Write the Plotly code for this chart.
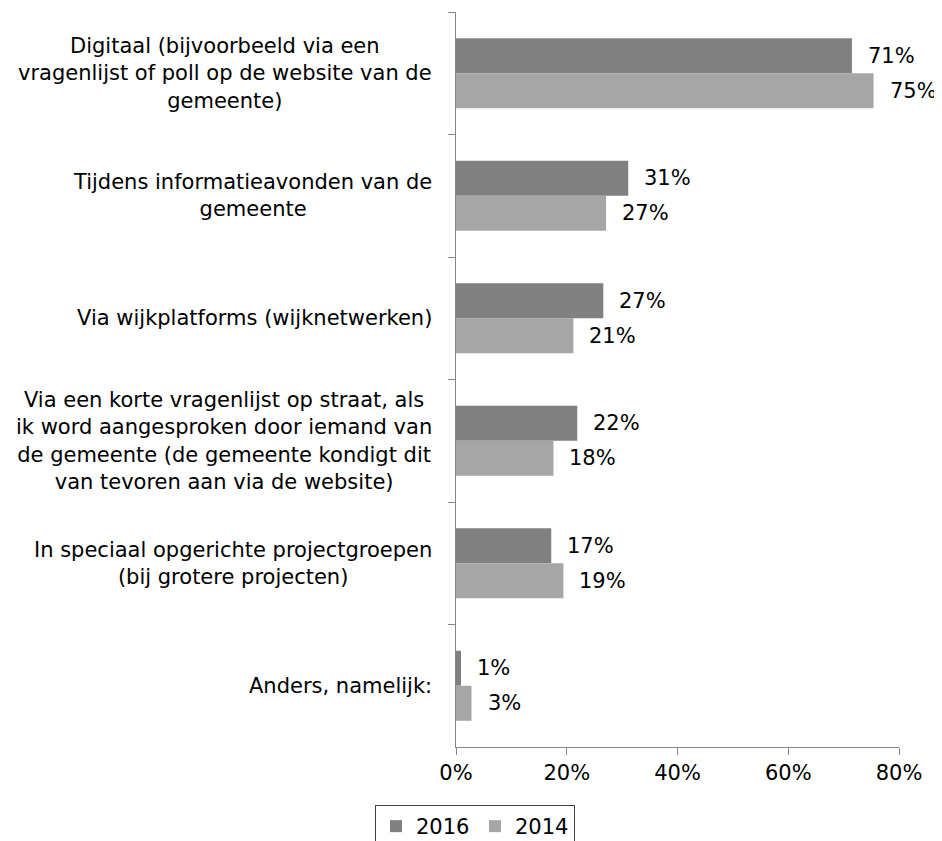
import plotly.graph_objects as go

categories = [
    "Digitaal (bijvoorbeeld via een<br>vragenlijst of poll op de website van de<br>gemeente)",
    "Tijdens informatieavonden van de<br>gemeente",
    "Via wijkplatforms (wijknetwerken)",
    "Via een korte vragenlijst op straat, als<br>ik word aangesproken door iemand van<br>de gemeente (de gemeente kondigt dit<br>van tevoren aan via de website)",
    "In speciaal opgerichte projectgroepen<br>(bij grotere projecten)",
    "Anders, namelijk:",
]
values_2016 = [71.5, 31.1, 26.6, 21.9, 17.2, 0.9]
values_2014 = [75.4, 27.1, 21.2, 17.6, 19.4, 2.8]
labels_2016 = ["71%", "31%", "27%", "22%", "17%", "1%"]
labels_2014 = ["75%", "27%", "21%", "18%", "19%", "3%"]
x_ticks = [0, 20, 40, 60, 80]
x_tick_labels = ["0%", "20%", "40%", "60%", "80%"]

FONT = "DejaVu Sans, Verdana, sans-serif"
FS = 21
C2016 = "#808080"
C2014 = "#A6A6A6"
AXIS = "#868686"
BARGAP = 0.428

fig = go.Figure()
fig.add_trace(go.Bar(y=categories, x=values_2016, orientation="h", name="2016",
                     marker=dict(color=C2016, line=dict(width=0))))
fig.add_trace(go.Bar(y=categories, x=values_2014, orientation="h", name="2014",
                     marker=dict(color=C2014, line=dict(width=0))))

annotations = []
bw = (1 - BARGAP) / 2
for i, cat in enumerate(categories):
    annotations.append(dict(x=0, xref="paper", y=cat, yref="y", text=cat, showarrow=False,
                            xanchor="right", align="center", xshift=-22,
                            font=dict(family=FONT, size=FS, color="#000000")))
for i, (v, t) in enumerate(zip(values_2016, labels_2016)):
    annotations.append(dict(x=v, y=i - bw / 2, xref="x", yref="y", text=t, showarrow=False,
                            xanchor="left", xshift=14,
                            font=dict(family=FONT, size=FS, color="#000000")))
for i, (v, t) in enumerate(zip(values_2014, labels_2014)):
    annotations.append(dict(x=v, y=i + bw / 2, xref="x", yref="y", text=t, showarrow=False,
                            xanchor="left", xshift=14,
                            font=dict(family=FONT, size=FS, color="#000000")))

fig.update_layout(
    width=942, height=841,
    margin=dict(l=448, r=51, t=4, b=102),
    paper_bgcolor="white", plot_bgcolor="white",
    barmode="group", bargap=BARGAP, bargroupgap=0,
    font=dict(family=FONT, size=FS, color="#000000"),
    showlegend=True,
    legend=dict(orientation="h", xref="container", yref="container",
                x=367 / 942, xanchor="left", y=1 - 797 / 841, yanchor="top",
                bordercolor="#404040", borderwidth=1, font=dict(family=FONT, size=FS),
                itemwidth=30, tracegroupgap=0, entrywidth=54, entrywidthmode="pixels"),
    annotations=annotations,
    xaxis=dict(range=[0, 80], tickvals=x_ticks, ticktext=x_tick_labels, showgrid=False,
               showline=True, linecolor=AXIS, linewidth=1, ticks="outside", ticklen=7,
               tickcolor=AXIS, zeroline=False, tickfont=dict(family=FONT, size=FS)),
    yaxis=dict(autorange="reversed", showticklabels=False, showgrid=False, showline=True,
               linecolor=AXIS, linewidth=1, ticks="outside", ticklen=7, tickcolor=AXIS,
               tickson="boundaries", zeroline=False),
)

fig.write_html("out.html")
